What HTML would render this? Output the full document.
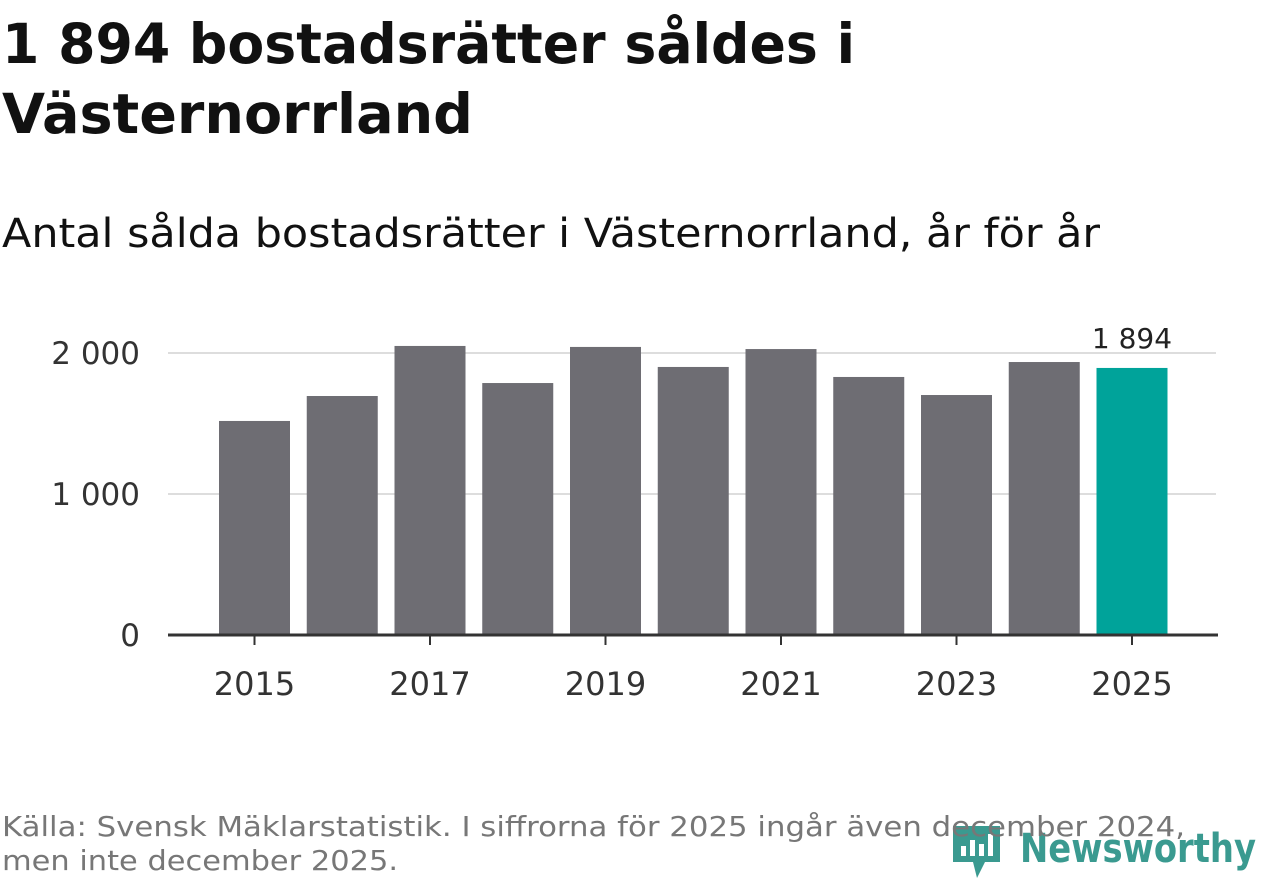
<!DOCTYPE html>
<html><head><meta charset="utf-8"><style>
body{margin:0;width:1262px;height:879px;background:#fff;font-family:"DejaVu Sans","Liberation Sans",sans-serif;overflow:hidden;position:relative}
svg text{font-family:"DejaVu Sans","Liberation Sans",sans-serif}
</style></head><body>
<svg id="chart" width="1262" height="879" style="position:absolute;left:0;top:0">
<text x="2" y="63" font-size="55" font-weight="bold" fill="#111" textLength="853" lengthAdjust="spacingAndGlyphs">1 894 bostadsrätter såldes i</text>
<text x="2" y="133" font-size="55" font-weight="bold" fill="#111" textLength="471" lengthAdjust="spacingAndGlyphs">Västernorrland</text>
<text x="2" y="247" font-size="40" fill="#111" textLength="1098" lengthAdjust="spacingAndGlyphs">Antal sålda bostadsrätter i Västernorrland, år för år</text>
<g>
<path d="M953 826h47v36H985l-8 16-4-16H953z" fill="#3a9a90"/>
<rect x="961" y="846" width="5" height="10" fill="#fff"/><rect x="970" y="840" width="5" height="16" fill="#fff"/><rect x="979" y="844" width="5" height="12" fill="#fff"/><rect x="988" y="834" width="5" height="22" fill="#fff"/>
<text x="1020" y="862" font-size="40" font-weight="bold" fill="#3a9a90" textLength="236" lengthAdjust="spacingAndGlyphs">Newsworthy</text>
</g>
<text x="2" y="836" font-size="28" fill="#777" textLength="1183" lengthAdjust="spacingAndGlyphs">Källa: Svensk Mäklarstatistik. I siffrorna för 2025 ingår även december 2024,</text>
<text x="2" y="870" font-size="28" fill="#777" textLength="396" lengthAdjust="spacingAndGlyphs">men inte december 2025.</text>
</svg>
<script>
const years=[2015,2016,2017,2018,2019,2020,2021,2022,2023,2024,2025];
const values=[1518,1695,2050,1787,2043,1901,2028,1830,1702,1936,1894];
const yTicks=[0,1000,2000];
const yTickLabels=["0","1 000","2 000"];
const xTickYears=[2015,2017,2019,2021,2023,2025];
const svg=document.getElementById('chart');
const NS='http://www.w3.org/2000/svg';
const y0=635,pxPer=0.141;
const y=v=>y0-v*pxPer;
const x=yr=>254.5+(yr-2015)*87.75;
function mk(t,a){const e=document.createElementNS(NS,t);for(const k in a)e.setAttribute(k,a[k]);svg.appendChild(e);return e;}
yTicks.forEach((t,i)=>{
  if(t>0){const g=mk('line',{x1:168,x2:1216,y1:y(t),y2:y(t),stroke:'#ddd','stroke-width':2});
  
  }
  const l=mk('text',{x:140,y:y(t)+11,'text-anchor':'end','font-size':31,fill:'#333'});
  l.textContent=yTickLabels[i];
  
  
});
years.forEach((yr,i)=>{
  const b=mk('rect',{x:x(yr)-35.5,y:y(values[i]),width:71,height:y0-y(values[i]),fill:yr===2025?'#00a39a':'#6e6d73'});
  
  
});
const ax=mk('line',{x1:168,x2:1218,y1:y0,y2:y0,stroke:'#333','stroke-width':3});


xTickYears.forEach(yr=>{
  const t=mk('line',{x1:x(yr),x2:x(yr),y1:y0,y2:y0+10,stroke:'#333','stroke-width':2});
  
  
  const l=mk('text',{x:x(yr),y:695,'text-anchor':'middle','font-size':32,fill:'#333'});
  l.textContent=yr;
  
  
});
const last=values[values.length-1];
const lab=mk('text',{x:x(2025),y:y(last)-20,'text-anchor':'middle','font-size':28,fill:'#222',stroke:'#fff','stroke-width':5,'paint-order':'stroke'});
lab.textContent=String(last).replace(/\B(?=(\d{3})+$)/g,' ');


</script>
</body></html>
